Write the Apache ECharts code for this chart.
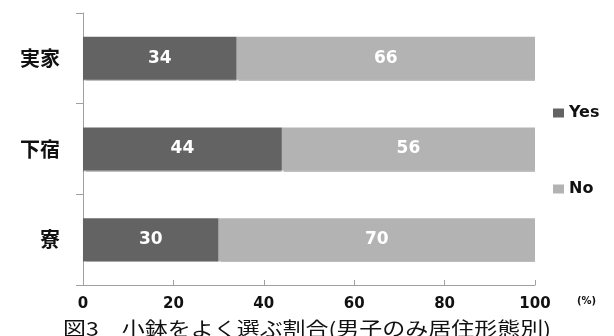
<!DOCTYPE html>
<html>
<head>
<meta charset="utf-8">
<script src="https://cdn.jsdelivr.net/npm/echarts@6/dist/echarts.min.js"></script>
<style>
  html, body { margin: 0; padding: 0; background: #fff; }
  #chart { width: 614px; height: 336px; }
</style>
</head>
<body>
<div id="chart"></div>
<script>
// 居住形態
const categories = ['実家', '下宿', '寮']
const yesValues = [34, 44, 30]
const noValues = [66, 56, 70]
const xTicks = [0, 20, 40, 60, 80, 100]

const chart = echarts.init(document.getElementById('chart'))

const fontBold = "'DejaVu Sans', 'Noto Sans CJK JP', sans-serif"
const fontCjk = "'Noto Sans CJK JP', sans-serif"

const option = {
  animation: false,
  title: [
    {
      text: '(%)',
      left: 572,
      top: 291,
      textStyle: { fontSize: 10, fontWeight: 'bold', color: '#111', fontFamily: fontBold }
    }
  ],
  graphic: [
    {
      type: 'text',
      x: 307,
      y: 329,
      scaleX: 1.21,
      style: {
        text: '図3　小鉢をよく選ぶ割合(男子のみ居住形態別)',
        font: "normal 19px 'Noto Sans CJK JP', sans-serif",
        fill: '#111',
        align: 'center',
        verticalAlign: 'middle'
      }
    }
  ],
  legend: {
    orient: 'vertical',
    left: 548,
    top: 100,
    itemWidth: 11,
    itemHeight: 9,
    itemGap: 60,
    icon: 'rect',
    textStyle: { fontSize: 16, fontWeight: 'bold', color: '#111', fontFamily: fontBold },
    data: ['Yes', 'No']
  },
  grid: { left: 83, right: 79, top: 13, bottom: 51 },
  xAxis: {
    type: 'value',
    min: xTicks[0],
    max: xTicks[xTicks.length - 1],
    interval: 20,
    axisLine: { show: true, lineStyle: { color: '#a0a0a0', width: 1 } },
    axisTick: { show: true, inside: true, length: 5, lineStyle: { color: '#a0a0a0' } },
    splitLine: { show: false },
    axisLabel: { fontSize: 15, fontWeight: 'bold', color: '#111', fontFamily: fontBold, margin: 12 }
  },
  yAxis: {
    type: 'category',
    data: categories,
    inverse: true,
    axisLine: { show: true, lineStyle: { color: '#a0a0a0', width: 1 } },
    axisTick: { show: true, length: 7, lineStyle: { color: '#a0a0a0' } },
    axisLabel: { fontSize: 20, fontWeight: 'bold', color: '#111', fontFamily: fontCjk, margin: 23 }
  },
  series: [
    {
      name: 'Yes',
      type: 'bar',
      stack: 'total',
      barWidth: 43,
      data: yesValues,
      itemStyle: { color: '#636363', shadowColor: 'rgba(0,0,0,0.25)', shadowOffsetY: 1, shadowBlur: 1 },
      label: { show: true, position: 'inside', fontSize: 17, fontWeight: 'bold', color: '#fff', fontFamily: fontBold }
    },
    {
      name: 'No',
      type: 'bar',
      stack: 'total',
      barWidth: 43,
      data: noValues,
      itemStyle: { color: '#b3b3b3', shadowColor: 'rgba(0,0,0,0.25)', shadowOffsetY: 1, shadowBlur: 1 },
      label: { show: true, position: 'inside', fontSize: 17, fontWeight: 'bold', color: '#fff', fontFamily: fontBold }
    }
  ]
}

chart.setOption(option)
</script>
</body>
</html>
